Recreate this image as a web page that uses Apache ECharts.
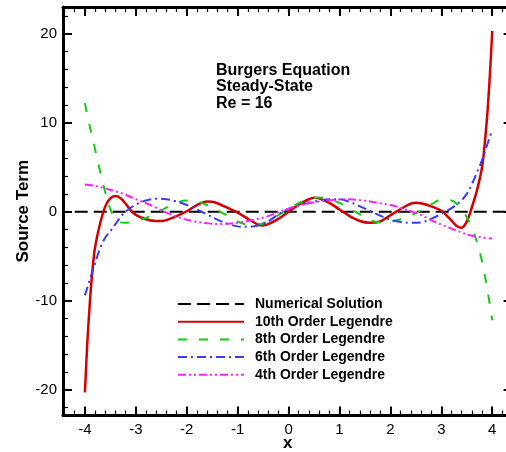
<!DOCTYPE html>
<html>
<head>
<meta charset="utf-8">
<script src="https://cdn.jsdelivr.net/npm/echarts@6/dist/echarts.min.js"></script>
<style>
html,body{margin:0;padding:0;background:#fff;}
#chart{width:506px;height:452px;}
</style>
</head>
<body>
<div id="chart"></div>
<script>
// ---- data ----
const seriesNames = ['Numerical Solution','10th Order Legendre','8th Order Legendre','6th Order Legendre','4th Order Legendre'];

const numX = [-4.2, 4.3];
const numY = [0, 0];

const redX = [-4.0,-3.95,-3.9,-3.85,-3.8,-3.7,-3.6,-3.5,-3.4,-3.3,-3.2,-3.1,-3.0,-2.8,-2.6,-2.5,-2.4,-2.2,-2.0,-1.8,-1.6,-1.5,-1.4,-1.2,-1.0,-0.8,-0.6,-0.5,-0.4,-0.2,0.0,0.2,0.4,0.5,0.6,0.8,1.0,1.2,1.4,1.6,1.8,2.0,2.2,2.4,2.5,2.6,2.8,3.0,3.2,3.3,3.4,3.5,3.6,3.7,3.8,3.85,3.9,3.95,4.0];
const redY = [-20.3,-14.5,-10.0,-6.5,-4.0,-1.3,0.6,1.5,1.75,1.5,0.9,0.15,-0.35,-0.85,-1.05,-1.05,-0.95,-0.5,0.05,0.75,1.15,1.12,0.95,0.45,-0.1,-0.8,-1.45,-1.55,-1.4,-0.8,0.0,0.8,1.4,1.57,1.5,1.0,0.25,-0.5,-1.05,-1.25,-1.1,-0.4,0.3,0.9,1.0,0.95,0.6,0.1,-1.0,-1.6,-1.8,-1.1,0.5,2.4,5.0,7.5,10.7,15.0,20.3];

const greenX = [-4.0,-3.9,-3.8,-3.7,-3.6,-3.5,-3.4,-3.3,-3.2,-3.0,-2.8,-2.6,-2.4,-2.2,-2.0,-1.8,-1.6,-1.4,-1.2,-1.0,-0.8,-0.6,-0.4,-0.2,0.0,0.2,0.4,0.6,0.8,1.0,1.2,1.4,1.6,1.8,2.0,2.2,2.4,2.6,2.8,3.0,3.2,3.3,3.4,3.5,3.6,3.7,3.8,3.9,4.0];
const greenY = [12.2,9.5,7.0,4.5,2.2,0.3,-0.8,-1.2,-1.25,-1.0,-0.7,-0.15,0.45,1.0,1.25,1.15,0.75,0.15,-0.45,-1.1,-1.45,-1.45,-1.05,-0.4,0.3,0.95,1.4,1.6,1.4,1.0,0.35,-0.3,-0.95,-1.2,-1.1,-0.85,-0.4,0.1,0.8,1.35,1.25,0.9,0.2,-0.6,-1.8,-3.4,-5.6,-8.6,-12.2];

const blueX = [-4.0,-3.9,-3.8,-3.7,-3.6,-3.5,-3.4,-3.3,-3.2,-3.0,-2.8,-2.6,-2.4,-2.2,-2.0,-1.8,-1.6,-1.4,-1.2,-1.0,-0.8,-0.6,-0.4,-0.2,0.0,0.2,0.4,0.6,0.8,1.0,1.2,1.4,1.6,1.8,2.0,2.2,2.4,2.6,2.8,3.0,3.2,3.4,3.5,3.6,3.7,3.8,3.9,4.0];
const blueY = [-9.4,-7.6,-5.8,-4.1,-2.9,-2.2,-1.4,-0.6,0.0,0.8,1.25,1.45,1.4,1.15,0.75,0.25,-0.3,-0.9,-1.35,-1.65,-1.7,-1.55,-1.1,-0.3,0.3,0.7,1.0,1.25,1.4,1.4,1.1,0.6,0.1,-0.45,-0.9,-1.15,-1.25,-1.2,-0.8,-0.25,0.4,1.3,2.0,3.1,4.4,5.8,7.5,9.2];

const magX = [-4.0,-3.8,-3.6,-3.4,-3.2,-3.0,-2.8,-2.6,-2.4,-2.2,-2.0,-1.8,-1.6,-1.4,-1.2,-1.0,-0.8,-0.6,-0.4,-0.2,0.0,0.2,0.4,0.6,0.8,1.0,1.2,1.4,1.6,1.8,2.0,2.2,2.4,2.6,2.8,3.0,3.2,3.4,3.6,3.8,4.0];
const magY = [3.05,2.9,2.6,2.3,1.9,1.4,0.95,0.45,-0.1,-0.55,-0.9,-1.15,-1.3,-1.38,-1.35,-1.25,-1.05,-0.8,-0.5,-0.05,0.35,0.7,0.95,1.15,1.3,1.38,1.4,1.3,1.15,0.95,0.75,0.45,0.05,-0.35,-0.95,-1.45,-1.9,-2.35,-2.7,-2.9,-3.0];

const xMajorTicks = [-4,-3,-2,-1,0,1,2,3,4];
const yMajorTicks = [-20,-10,0,10,20];
const annotationText = 'Burgers Equation\nSteady-State\nRe = 16';
const xName = 'x';
const yName = 'Source Term';

// minor tick positions
const xMinorTicks = [];
for (let i = -22; i <= 22; i++) xMinorTicks.push(+(i * 0.2).toFixed(2));
const yMinorTicks = [];
for (let v = -22; v <= 22; v += 2) yMinorTicks.push(v);

const pairs = (xs, ys) => xs.map((x, i) => [x, ys[i]]);

const FONT = '"Liberation Sans", Arial, Helvetica, sans-serif';
const XMIN = -4.43, XMAX = 4.4, YMIN = -22.9, YMAX = 23.0;

function xAx(pos, major, labels) {
  return {
    type: 'value', position: pos, min: XMIN, max: XMAX,
    splitLine: {show: false},
    axisLine: {show: major, onZero: false, lineStyle: {color: '#000', width: 3}},
    axisTick: {show: true, inside: true, length: major ? 9 : 5,
      customValues: major ? xMajorTicks : xMinorTicks,
      lineStyle: {color: '#000', width: major ? 2 : 1.2}},
    axisLabel: {show: labels, customValues: xMajorTicks, margin: 7,
      color: '#000', fontSize: 15, fontFamily: FONT},
    name: labels ? xName : '', nameLocation: 'middle', nameGap: 19, nameMoveOverlap: false,
    nameTextStyle: {color: '#000', fontSize: 17, fontWeight: 'bold', fontFamily: FONT}
  };
}
function yAx(pos, major, labels) {
  return {
    type: 'value', position: pos, min: YMIN, max: YMAX,
    splitLine: {show: false},
    axisLine: {show: major, onZero: false, lineStyle: {color: '#000', width: 3}},
    axisTick: {show: true, inside: true, length: major ? 9 : 5,
      customValues: major ? yMajorTicks : yMinorTicks,
      lineStyle: {color: '#000', width: major ? 2 : 1.2}},
    axisLabel: {show: labels, customValues: yMajorTicks, margin: 6,
      color: '#000', fontSize: 15, fontFamily: FONT},
    name: labels ? yName : '', nameLocation: 'middle', nameGap: 31, nameMoveOverlap: false,
    nameTextStyle: {color: '#000', fontSize: 17, fontWeight: 'bold', fontFamily: FONT}
  };
}

const chart = echarts.init(document.getElementById('chart'), null, {renderer: 'canvas'});

const lineDefs = [
  {data: pairs(numX, numY), color: '#000000', width: 2, type: [13, 6]},
  {data: pairs(redX, redY), color: '#d40000', width: 2.5, type: 'solid'},
  {data: pairs(greenX, greenY), color: '#11cc11', width: 2, type: [9, 12]},
  {data: pairs(blueX, blueY), color: '#3a3aff', width: 2, type: [9, 4, 2, 4]},
  {data: pairs(magX, magY), color: '#ff22ff', width: 2, type: [8, 3, 2, 3, 2, 3]}
];

chart.setOption({
  animation: false,
  backgroundColor: '#fff',
  grid: {left: 63, top: 7, width: 449.6, height: 408.5, containLabel: false, outerBoundsMode: 'none'},
  xAxis: [xAx('bottom', true, true), xAx('bottom', false, false), xAx('top', true, false), xAx('top', false, false)],
  yAxis: [yAx('left', true, true), yAx('left', false, false), yAx('right', true, false), yAx('right', false, false)],
  legend: {
    data: seriesNames,
    orient: 'vertical', left: 177, top: 297, padding: 0,
    itemWidth: 66, itemHeight: 14, itemGap: 3.7,
    itemStyle: {color: 'rgba(0,0,0,0)', borderWidth: 0, opacity: 0},
    textStyle: {color: '#000', fontSize: 14, fontWeight: 'bold', fontFamily: FONT, padding: [0, 0, 0, 6]}
  },
  graphic: [{
    type: 'text', left: 216, top: 62,
    style: {text: annotationText, fill: '#000', font: 'bold 16px ' + FONT, lineHeight: 16.5}
  }],
  series: lineDefs.map((d, i) => ({
    name: seriesNames[i], type: 'line', xAxisIndex: 0, yAxisIndex: 0,
    data: d.data, symbol: 'none', smooth: i === 0 ? false : 0.35,
    lineStyle: {color: d.color, width: d.width, type: d.type},
    itemStyle: {color: d.color},
    z: 2 + i
  }))
});
</script>
</body>
</html>
